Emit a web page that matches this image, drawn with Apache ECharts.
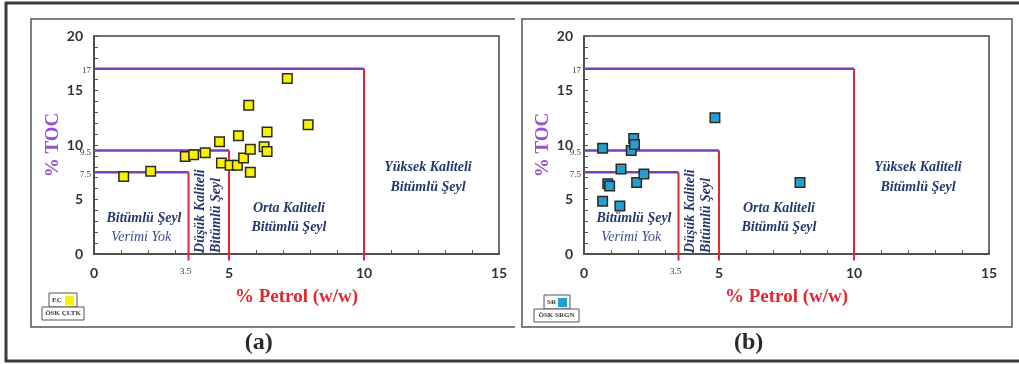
<!DOCTYPE html>
<html>
<head>
<meta charset="utf-8">
<script src="https://cdn.jsdelivr.net/npm/echarts@6/dist/echarts.min.js"></script>
<style>
  html, body { margin: 0; padding: 0; background: #ffffff; }
  #chart { width: 1019px; height: 365px; }
</style>
</head>
<body>
<div id="chart"></div>
<script>
// Oil shale samples: % oil yield (w/w) against % TOC
const ecPetrol = [1.1, 2.1, 3.38, 3.69, 4.12, 4.65, 4.72, 5.04, 5.31, 5.35, 5.54, 5.73, 5.79, 5.79, 6.30, 6.41, 6.41, 7.16, 7.93];
const ecToc    = [7.1, 7.6, 8.95, 9.1, 9.3, 10.3, 8.35, 8.15, 8.15, 10.85, 8.8, 13.65, 9.6, 7.5, 9.85, 11.2, 9.4, 16.1, 11.85];
const srPetrol = [0.69, 0.69, 0.88, 0.95, 1.33, 1.37, 1.75, 1.84, 1.87, 1.95, 2.22, 4.85, 8.0];
const srToc    = [9.7, 4.85, 6.45, 6.25, 4.4, 7.8, 9.5, 10.6, 10.05, 6.55, 7.35, 12.5, 6.55];

// Quality class limits: each TOC limit pairs with an oil-yield limit
const tocLimits    = [7.5, 9.5, 17];
const petrolLimits = [3.5, 5, 10];

// Axis ranges and labelled ticks
const petrolRange = [0, 15];
const tocRange    = [0, 20];
const majorStep   = 5;

// Zone names
const zoneNoYield  = ['Bitümlü Şeyl', 'Verimi Yok'];
const zoneLow      = ['Düşük Kaliteli', 'Bitümlü Şeyl'];
const zoneMedium   = ['Orta Kaliteli', 'Bitümlü Şeyl'];
const zoneHigh     = ['Yüksek Kaliteli', 'Bitümlü Şeyl'];

// Panel captions and legend keys
const panelTags    = ['(a)', '(b)'];
const sampleCodes  = ['EÇ', 'SR'];
const sampleGroups = ['ÖSK ÇLTK', 'ÖSK SRGN'];
const sampleColors = ['#f6f200', '#22a0d6'];

const SERIF = '"Liberation Serif", "DejaVu Serif", serif';
const PURPLE = '#7a3fb5';
const RED = '#e6262d';
const NAVY = '#22386f';

const chart = echarts.init(document.getElementById('chart'), null, { renderer: 'canvas' });

const grids = [
  { left: 94, top: 36, width: 405, height: 218 },
  { left: 584, top: 36, width: 405, height: 218 }
];

function makeXAxis(i) {
  return {
    gridIndex: i, type: 'value', min: petrolRange[0], max: petrolRange[1], interval: majorStep,
    name: '% Petrol (w/w)', nameLocation: 'middle', nameGap: 34,
    nameTextStyle: { fontFamily: SERIF, fontWeight: 'bold', fontSize: 19, color: RED },
    axisLine: { show: true, lineStyle: { color: '#444', width: 1.5 } },
    axisTick: { show: true, inside: true, length: 4, lineStyle: { color: '#555' } },
    minorTick: { show: true, splitNumber: 5, length: 4, lineStyle: { color: '#555' } },
    splitLine: { show: false },
    axisLabel: { margin: 12, fontFamily: 'Lato, "Open Sans", sans-serif', fontWeight: 'bold', fontSize: 14, color: '#333' }
  };
}
function makeYAxis(i) {
  return {
    gridIndex: i, type: 'value', min: tocRange[0], max: tocRange[1], interval: majorStep,
    name: '% TOC', nameLocation: 'middle', nameGap: 29, nameRotate: 90,
    nameTextStyle: { fontFamily: SERIF, fontWeight: 'bold', fontSize: 19, color: '#9a52cc' },
    axisLine: { show: true, lineStyle: { color: '#444', width: 1.5 } },
    axisTick: { show: true, inside: true, length: 4, lineStyle: { color: '#555' } },
    minorTick: { show: true, splitNumber: 5, length: 4, lineStyle: { color: '#555' } },
    splitLine: { show: false },
    axisLabel: { margin: 11, fontFamily: 'Lato, "Open Sans", sans-serif', fontWeight: 'bold', fontSize: 14, color: '#333' }
  };
}

function limitSeries(i) {
  const out = [];
  tocLimits.forEach((toc, k) => {
    const p = petrolLimits[k];
    out.push({
      type: 'line', xAxisIndex: i, yAxisIndex: i, symbol: 'none', silent: true, z: 2,
      data: [[0, toc], [p, toc]],
      lineStyle: { color: PURPLE, width: 2.5 }
    });
    out.push({
      type: 'line', xAxisIndex: i, yAxisIndex: i, symbol: 'none', silent: true, z: 2, clip: false,
      data: [[p, toc], [p, -0.6]],
      lineStyle: { color: RED, width: 2 }
    });
  });
  return out;
}

function pointSeries(i, xs, ys) {
  return {
    type: 'scatter', xAxisIndex: i, yAxisIndex: i, z: 5,
    symbol: 'rect', symbolSize: 9.5,
    data: xs.map((x, k) => [x, ys[k]]),
    itemStyle: { color: sampleColors[i], borderColor: '#2b2b1e', borderWidth: 1.5, opacity: 1 }
  };
}

chart.setOption({
  animation: false,
  backgroundColor: '#ffffff',
  grid: grids.map(g => Object.assign({ show: true, borderColor: '#444', borderWidth: 1.5, backgroundColor: 'transparent' }, g)),
  xAxis: [makeXAxis(0), makeXAxis(1)],
  yAxis: [makeYAxis(0), makeYAxis(1)],
  series: [
    ...limitSeries(0), ...limitSeries(1),
    pointSeries(0, ecPetrol, ecToc),
    pointSeries(1, srPetrol, srToc)
  ]
});

// Overlay: frames, zone names, limit tick labels, legend keys and captions
function px(i, x, y) { return chart.convertToPixel({ gridIndex: i }, [x, y]); }

const zoneFont = { fontFamily: SERIF, fontStyle: 'italic', fontWeight: 'bold', fontSize: 14, fill: NAVY };
function zoneText(i, x, y, text, extra) {
  const p = px(i, x, y);
  return { type: 'text', x: p[0], y: p[1], z: 10,
    style: Object.assign({ text: text, align: 'center', verticalAlign: 'middle' }, zoneFont, extra || {}) };
}
function zoneTextUp(i, x, y, text) {
  const p = px(i, x, y);
  return { type: 'text', x: p[0], y: p[1], rotation: Math.PI / 2, z: 10,
    style: Object.assign({ text: text, align: 'left', verticalAlign: 'middle' }, zoneFont) };
}

const graphic = [];
// figure border
graphic.push({ type: 'line', shape: { x1: 5, y1: 3, x2: 1019, y2: 3 }, style: { stroke: '#3a3a3a', lineWidth: 3 } });
graphic.push({ type: 'line', shape: { x1: 5, y1: 361, x2: 1019, y2: 361 }, style: { stroke: '#3a3a3a', lineWidth: 3 } });
graphic.push({ type: 'line', shape: { x1: 6, y1: 2, x2: 6, y2: 362 }, style: { stroke: '#3a3a3a', lineWidth: 3 } });
// panel frames
graphic.push({ type: 'polyline', shape: { points: [[515, 19], [31, 19], [31, 327], [515, 327]] }, style: { stroke: '#555', lineWidth: 1.5, fill: null } });
graphic.push({ type: 'rect', shape: { x: 522, y: 19, width: 490, height: 308 }, style: { stroke: '#555', lineWidth: 1.5, fill: null } });

[0, 1].forEach(i => {
  // limit values on the axes
  tocLimits.forEach(t => {
    const p = px(i, 0, t);
    graphic.push({ type: 'text', x: p[0] - 3, y: p[1] + 2, z: 10,
      style: { text: String(t), align: 'right', verticalAlign: 'middle', fontFamily: SERIF, fontSize: 9, fill: '#333' } });
  });
  const q = px(i, petrolLimits[0], 0);
  graphic.push({ type: 'text', x: q[0] - 3, y: q[1] + 18, z: 10,
    style: { text: String(petrolLimits[0]), align: 'center', verticalAlign: 'middle', fontFamily: SERIF, fontSize: 9, fill: '#333' } });

  // zone names
  graphic.push(zoneText(i, 1.85, 3.3, zoneNoYield[0]));
  graphic.push(zoneText(i, 1.75, 1.55, zoneNoYield[1], { fontWeight: 'normal', fill: '#3c4c8c' }));
  graphic.push(zoneTextUp(i, 3.93, 0.1, zoneLow[0]));
  graphic.push(zoneTextUp(i, 4.55, 0.1, zoneLow[1]));
  graphic.push(zoneText(i, 7.22, 4.2, zoneMedium[0]));
  graphic.push(zoneText(i, 7.22, 2.45, zoneMedium[1]));
  graphic.push(zoneText(i, 12.37, 7.9, zoneHigh[0]));
  graphic.push(zoneText(i, 12.37, 6.15, zoneHigh[1]));

  // panel caption
  const c = px(i, 6.1, 0);
  graphic.push({ type: 'text', x: c[0], y: 343, z: 10,
    style: { text: panelTags[i], align: 'center', verticalAlign: 'middle', fontFamily: SERIF, fontWeight: 'bold', fontSize: 24, fill: '#2a2a2a' } });
});

// legend keys
const keys = [
  { bx: 49, by: 293, bw: 28, gx: 42, gw: 42 },
  { bx: 544, by: 295, bw: 26, gx: 534, gw: 45 }
];
keys.forEach((k, i) => {
  graphic.push({ type: 'rect', shape: { x: k.bx, y: k.by, width: k.bw, height: 14 }, style: { stroke: '#555', lineWidth: 1, fill: '#fff' } });
  graphic.push({ type: 'text', x: k.bx + 3, y: k.by + 7.5,
    style: { text: sampleCodes[i], align: 'left', verticalAlign: 'middle', fontFamily: SERIF, fontWeight: 'bold', fontSize: 7, fill: '#333' } });
  graphic.push({ type: 'rect', shape: { x: k.bx + k.bw - 12, y: k.by + 3, width: 9, height: 9 }, style: { fill: sampleColors[i], stroke: null } });
  graphic.push({ type: 'rect', shape: { x: k.gx, y: k.by + 14, width: k.gw, height: 13 }, style: { stroke: '#555', lineWidth: 1, fill: '#fff' } });
  graphic.push({ type: 'text', x: k.gx + k.gw / 2, y: k.by + 20.5,
    style: { text: sampleGroups[i], align: 'center', verticalAlign: 'middle', fontFamily: SERIF, fontWeight: 'bold', fontSize: 7, fill: '#333' } });
});

chart.setOption({ graphic: graphic });
</script>
</body>
</html>
